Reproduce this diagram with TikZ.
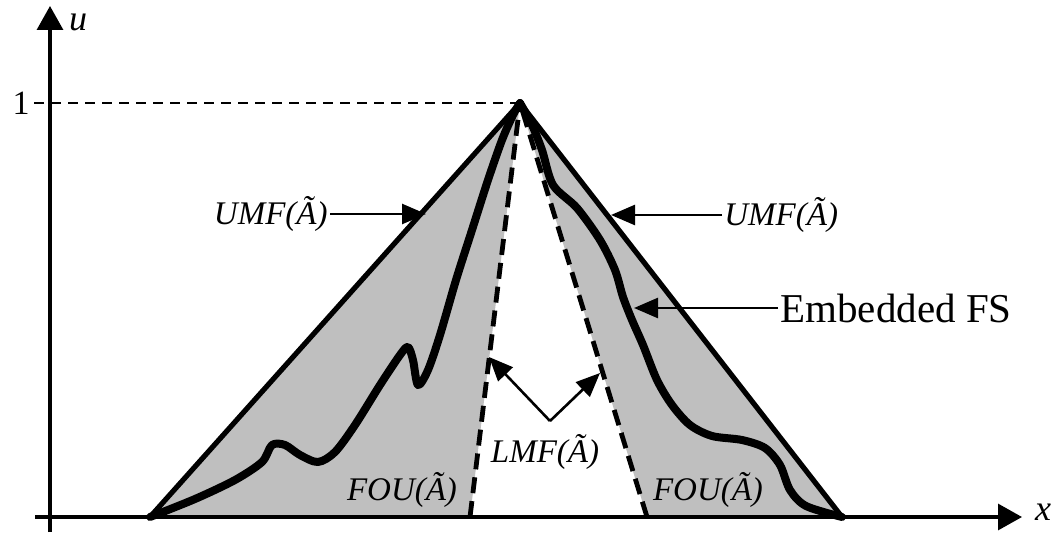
\documentclass[tikz,border=0pt]{standalone}
\usepackage{fontspec}
\setmainfont{Liberation Serif}
\usetikzlibrary{arrows.meta}
\begin{document}
\begin{tikzpicture}[x=0.5pt,y=-0.5pt,
  fou/.style={fill=black!25},
  umf/.style={line width=2.6pt, line join=round},
  lmf/.style={line width=2.4pt, dash pattern=on 8pt off 4pt},
  emb/.style={line width=4pt, line join=round, line cap=round},
  axis/.style={line width=1.6pt, -{Triangle[length=12pt,width=13pt]}},
  lab/.style={font=\fontsize{16.5}{18}\selectfont\itshape, inner sep=1pt},
  ptr/.style={line width=1.3pt, -{Triangle[length=12pt,width=10pt]}},
  tick/.style={line width=1.4pt, dash pattern=on 5pt off 3.5pt}]
\useasboundingbox (0,0) rectangle (1059,539);
% key points
\coordinate (L) at (150,517);
\coordinate (T) at (520,103);
\coordinate (R) at (842,517);
\coordinate (LL) at (470,517);
\coordinate (LR) at (647,517);
% FOU
\fill[fou] (L) -- (T) -- (LL) -- cycle;
\fill[fou] (T) -- (R) -- (LR) -- cycle;
% axes
\coordinate (xs) at (35,517);
\coordinate (xe) at (1022,517);
\coordinate (ys) at (50,532);
\coordinate (ye) at (50,6);
\draw[axis] (xs) -- (xe);
\draw[axis] (ys) -- (ye);
\node[font=\fontsize{18}{20}\selectfont\itshape] (u) at (78,22) {u};
\node[font=\fontsize{18}{20}\selectfont\itshape] (x) at (1043,512) {x};
\node[font=\fontsize{17}{19}\selectfont, anchor=east, inner sep=0pt] (one) at (30,103) {1};
\coordinate (one0) at (34,103);
\draw[tick] (one0) -- (T);
% LMF
\draw[lmf] (LL) -- (T);
\draw[lmf] (LR) -- (T);
\draw[lmf] (L) -- (LL);
\draw[lmf] (LR) -- (R);
% UMF
\draw[umf] (L) -- (T) -- (R);
% embedded FS
\draw[emb] plot[smooth, tension=0.5] coordinates {
 (150,517) (195,499) (235,480) (262,462) (272,445) (285,445) (300,455) (318,462)
 (335,452) (355,425) (380,385) (400,355) (408,347) (413,360) (418,385) (428,370)
 (440,335) (456,280) (472,230) (488,180) (502,140) (513,115) (520,103)};
\draw[emb] plot[smooth, tension=0.5] coordinates {
 (520,103) (532,125) (542,150) (553,185) (577,208) (600,240) (615,270) (623,297)
 (632,320) (643,345) (657,380) (672,405) (690,425) (712,436) (742,440) (765,448)
 (780,465) (790,490) (806,506) (842,517)};
% labels
\node[lab, anchor=east] (umfL) at (330,214) {UMF(Ã)};
\coordinate (umfLt) at (426,214);
\draw[ptr] (umfL.east) -- (umfLt);
\node[lab, anchor=west] (umfR) at (722,215) {UMF(Ã)};
\coordinate (umfRt) at (611,215);
\draw[ptr] (umfR.west) -- (umfRt);
\node[font=\fontsize{20.5}{23}\selectfont, anchor=west, inner sep=1pt] (emblab) at (778,308) {Embedded FS};
\coordinate (embt) at (634,308);
\draw[ptr] (emblab.west) -- (embt);
\node[lab] (lmflab) at (545,452) {LMF(Ã)};
\coordinate (v) at (550,421);
\coordinate (lt) at (489,357);
\coordinate (rt) at (600,373);
\draw[ptr] (v) -- (lt);
\draw[ptr] (v) -- (rt);
\node[lab] (fouL) at (402,490) {FOU(Ã)};
\node[lab] (fouR) at (708,490) {FOU(Ã)};
\end{tikzpicture}
\end{document}
